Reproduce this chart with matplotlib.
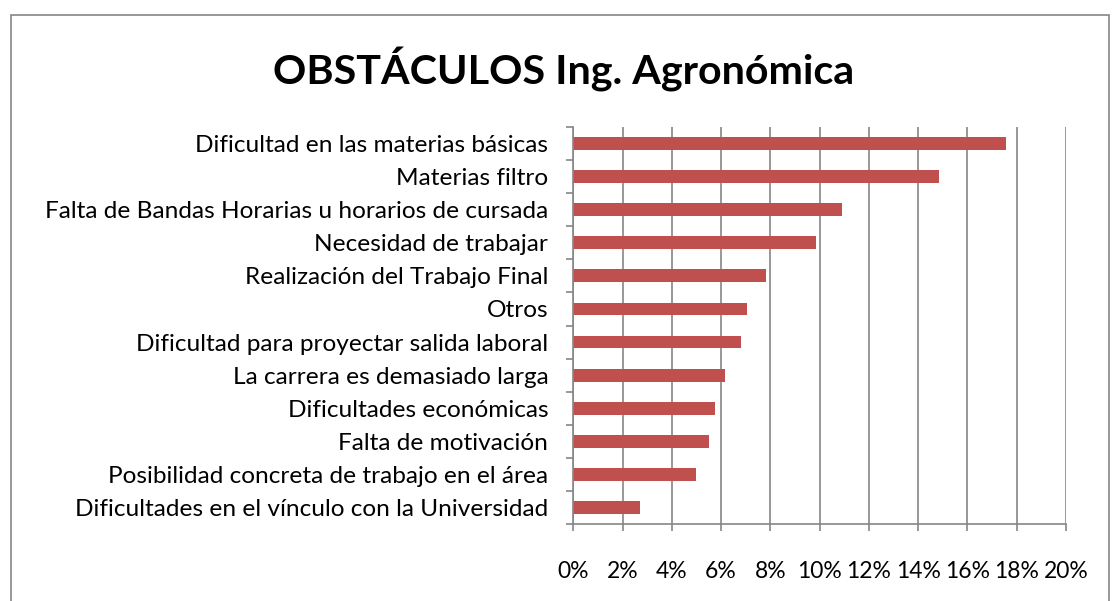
import matplotlib
matplotlib.use("Agg")
import matplotlib.pyplot as plt
from matplotlib.patches import Rectangle
from matplotlib.ticker import FixedLocator, FuncFormatter

categories = [
    "Dificultad en las materias básicas",
    "Materias filtro",
    "Falta de Bandas Horarias u horarios de cursada",
    "Necesidad de trabajar",
    "Realización del Trabajo Final",
    "Otros",
    "Dificultad para proyectar salida laboral",
    "La carrera es demasiado larga",
    "Dificultades económicas",
    "Falta de motivación",
    "Posibilidad concreta de trabajo en el área",
    "Dificultades en el vínculo con la Universidad",
]
values = [0.1755, 0.1485, 0.1089, 0.0986, 0.0782, 0.0704,
          0.0679, 0.0616, 0.0576, 0.0551, 0.0498, 0.0269]
xticks = [0.0, 0.02, 0.04, 0.06, 0.08, 0.10, 0.12, 0.14, 0.16, 0.18, 0.20]

plt.rcParams['font.family'] = ['Lato', 'DejaVu Sans']

W, H = 1119, 601
fig = plt.figure(figsize=(W/100, H/100), dpi=100)
fig.patches.append(Rectangle((11/W, -0.1), (1109-11)/W, 1.1 - 15/H + 0.0,
                             transform=fig.transFigure, fill=False,
                             edgecolor='#868686', linewidth=1.2))

ax = fig.add_axes([573.3/W, 1-524/H, (1066-573.3)/W, (524-127)/H])
n = len(categories)
ypos = list(range(n))[::-1]
ax.barh(ypos, values, height=0.39, color='#C0504D', zorder=3)
ax.set_xlim(0, 0.20)
ax.set_ylim(-0.5, n-0.5)

ax.xaxis.set_major_locator(FixedLocator(xticks))
ax.xaxis.set_major_formatter(FuncFormatter(lambda v, p: f"{round(v*100):d}%"))
ax.set_yticks(ypos)
ax.set_yticklabels(categories)
ax.set_yticks([i - 0.5 for i in range(n+1)], minor=True)
ax.tick_params(axis='y', which='major', length=0, pad=18, labelsize=17.6)
ax.tick_params(axis='y', which='minor', length=5, width=1.2, color='#868686', direction='out')
ax.tick_params(axis='x', which='major', length=5, width=1.2, color='#868686',
               direction='out', pad=22, labelsize=16.5)
ax.grid(axis='x', color='#868686', linewidth=1.2, zorder=0)
for s in ['top', 'right']:
    ax.spines[s].set_visible(False)
for s in ['left', 'bottom']:
    ax.spines[s].set_color('#868686')
    ax.spines[s].set_linewidth(1.2)
    ax.spines[s].set_zorder(4)

fig.text(564/W, 1-70/H, "OBSTÁCULOS Ing. Agronómica", ha='center', va='center',
         fontsize=29.7, fontweight='bold')

fig.savefig("out.png", dpi=100)
